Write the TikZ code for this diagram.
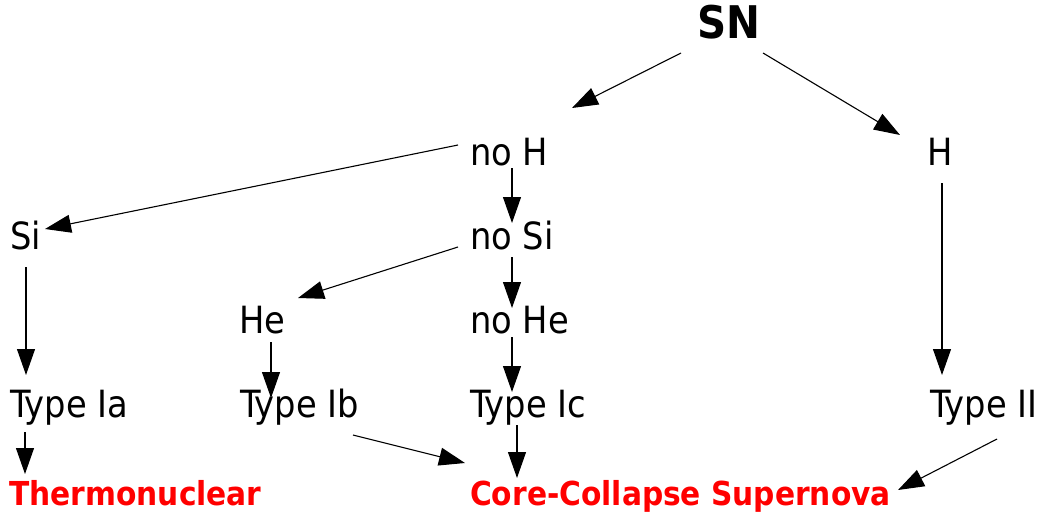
\documentclass[tikz,border=0pt]{standalone}
\usepackage{fontspec}
\setmainfont{DejaVu Sans Condensed}[BoldFont={DejaVu Sans Condensed Bold}]
\usetikzlibrary{arrows.meta}
\definecolor{snred}{RGB}{255,0,0}
\tikzset{
  lbl/.style={anchor=base west, inner sep=0pt, font=\fontsize{37.5}{42}\selectfont},
  headlbl/.style={anchor=base west, inner sep=0pt, font=\fontsize{45}{50}\selectfont\bfseries},
  classlbl/.style={anchor=base west, inner sep=0pt, text=snred, font=\fontsize{33}{37}\selectfont\bfseries},
  link/.style={line width=1.1pt, -{Triangle[length=26pt,width=18pt]}}
}
\begin{document}
\begin{tikzpicture}[x=1pt,y=-1pt]
\useasboundingbox (0,0) rectangle (1040,514);
% labels (base west at text origin)
\node[headlbl] (SN) at (697,38) {SN};
\node[lbl] (noH) at (470,165) {no H};
\node[lbl] (H) at (927,165) {H};
\node[lbl] (Si) at (10,249) {Si};
\node[lbl] (noSi) at (470,249) {no Si};
\node[lbl] (He) at (239,333) {He};
\node[lbl] (noHe) at (470,333) {no He};
\node[lbl] (Ia) at (10,417) {Type Ia};
\node[lbl] (Ib) at (240,417) {Type Ib};
\node[lbl] (Ic) at (470,417) {Type Ic};
\node[lbl] (II) at (930,417) {Type II};
\node[classlbl] (thermo) at (9,505) {Thermonuclear};
\node[classlbl] (cc) at (470,505) {Core-Collapse Supernova};
% connectors
\draw[link] ([shift={(-16,15)}]SN.base west) -- ([shift={(102,-57)}]noH.base west);
\draw[link] ([shift={(66,15)}]SN.base west) -- ([shift={(-27,-30)}]H.base west);
\draw[link] ([shift={(-12,-20)}]noH.base west) -- ([shift={(35,-20)}]Si.base west);
\draw[link] ([shift={(42,3)}]noH.base west) -- ([shift={(42,-26)}]noSi.base west);
\draw[link] ([shift={(-12,-2)}]noSi.base west) -- ([shift={(59,-35)}]He.base west);
\draw[link] ([shift={(42,8)}]noSi.base west) -- ([shift={(42,-25)}]noHe.base west);
\draw[link] ([shift={(16,18)}]Si.base west) -- ([shift={(16,-42)}]Ia.base west);
\draw[link] ([shift={(32,9)}]He.base west) -- ([shift={(31,-19)}]Ib.base west);
\draw[link] ([shift={(42,4)}]noHe.base west) -- ([shift={(42,-25)}]Ic.base west);
\draw[link] ([shift={(15,18)}]H.base west) -- ([shift={(12,-42)}]II.base west);
\draw[link] ([shift={(15,15)}]Ia.base west) -- ([shift={(16,-31)}]thermo.base west);
\draw[link] ([shift={(113,18)}]Ib.base west) -- ([shift={(-5,-42)}]cc.base west);
\draw[link] ([shift={(47,8)}]Ic.base west) -- ([shift={(47,-27)}]cc.base west);
\draw[link] ([shift={(67,22)}]II.base west) -- ([shift={(428,-15)}]cc.base west);
\end{tikzpicture}
\end{document}
